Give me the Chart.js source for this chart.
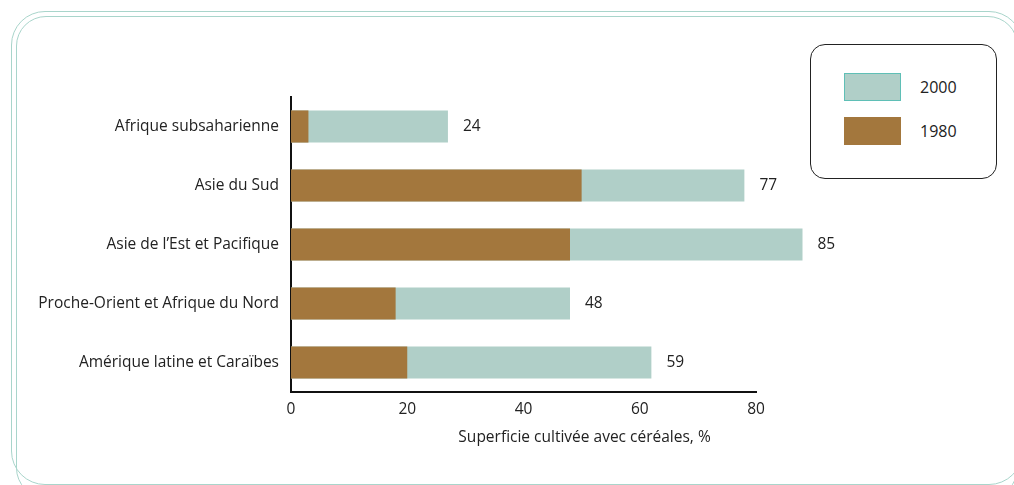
<!DOCTYPE html>
<html lang="fr">
<head>
<meta charset="utf-8">
<script src="https://cdn.jsdelivr.net/npm/chart.js@4"></script>
<style>
    html, body { margin: 0; padding: 0; background: #fff; }
    body { width: 1014px; height: 485px; position: relative; overflow: hidden; font-family: "Open Sans", "Noto Sans", sans-serif; }
    .frame { position: absolute; border: 1px solid #a9d5cb; border-radius: 34px; }
    .frame.outer { left: 11px; top: 11px; width: 1010px; height: 472px; }
    .frame.inner { left: 16px; top: 16px; width: 1000px; height: 480px; border-radius: 30px; }
    #chartWrap { position: absolute; left: 0; top: 0; width: 1014px; height: 485px; }
    .legend { position: absolute; left: 810px; top: 44px; width: 185px; height: 133px; border: 1.5px solid #222; border-radius: 15px; background: #fff; }
    .legend .item { position: absolute; left: 33px; height: 30px; display: flex; align-items: center; }
    .legend .swatch { width: 57px; height: 28px; box-sizing: border-box; }
    .legend .label { margin-left: 19px; font-size: 16px; color: #222; }
</style>
</head>
<body>
<div class="frame outer"></div>
<div class="frame inner"></div>
<div id="chartWrap"><canvas id="chart"></canvas></div>
<div class="legend" id="legend"></div>
<script>
// Data
const categories = [
    "Afrique subsaharienne",
    "Asie du Sud",
    "Asie de l\u2019Est et Pacifique",
    "Proche-Orient et Afrique du Nord",
    "Am\u00e9rique latine et Cara\u00efbes"
];
const values2000 = [27, 78, 88, 48, 62];
const values1980 = [3, 50, 48, 18, 20];
const valueLabels = ["24", "77", "85", "48", "59"];
const xTicks = [0, 20, 40, 60, 80];
const axisTitle = "Superficie cultiv\u00e9e avec c\u00e9r\u00e9ales, %";

const color2000 = "#b0cfc8";
const border2000 = "#5fbfb6";
const color1980 = "#a3773d";
const textColor = "#222";
const fontFamily = '"Open Sans", "Noto Sans", sans-serif';

// Legend box (HTML)
function buildLegend() {
    const legend = document.getElementById('legend');
    const items = [
        { label: "2000", fill: color2000, border: border2000, top: 27 },
        { label: "1980", fill: color1980, border: color1980, top: 71 }
    ];
    items.forEach(it => {
        const row = document.createElement('div');
        row.className = 'item';
        row.style.top = it.top + 'px';
        row.innerHTML = `<div class="swatch" style="background:${it.fill};border:1.5px solid ${it.border}"></div>` +
                        `<div class="label">${it.label}</div>`;
        legend.appendChild(row);
    });
}

// Numbers to the right of each bar + custom-placed axis title
const extrasPlugin = {
    id: 'extras',
    afterDatasetsDraw(chart) {
        const ctx = chart.ctx;
        const meta = chart.getDatasetMeta(1);
        ctx.save();
        ctx.font = '15.5px ' + fontFamily;
        ctx.fillStyle = textColor;
        ctx.textAlign = 'left';
        ctx.textBaseline = 'middle';
        meta.data.forEach((bar, i) => {
            ctx.fillText(valueLabels[i], bar.x + 15, bar.y);
        });
        const xs = chart.scales.x;
        ctx.textAlign = 'center';
        ctx.fillText(axisTitle, xs.getPixelForValue(50.5), xs.bottom - 47);
        ctx.restore();
    }
};

function drawChart() {
    const ctx = document.getElementById('chart').getContext('2d');
    new Chart(ctx, {
        type: 'bar',
        data: {
            labels: categories,
            datasets: [
                {
                    label: "1980",
                    data: values1980,
                    backgroundColor: color1980,
                    order: 1,
                    clip: false
                },
                {
                    label: "2000",
                    data: values2000,
                    backgroundColor: color2000,
                    order: 2,
                    clip: false
                }
            ]
        },
        options: {
            indexAxis: 'y',
            responsive: true,
            maintainAspectRatio: false,
            animation: false,
            grouped: false,
            categoryPercentage: 1,
            barPercentage: 0.545,
            layout: { padding: { top: 97, right: 258, bottom: 0, left: 0 } },
            plugins: {
                legend: { display: false },
                tooltip: { enabled: false }
            },
            scales: {
                x: {
                    min: 0,
                    max: 80,
                    afterBuildTicks(scale) {
                        scale.ticks = xTicks.map(v => ({ value: v }));
                    },
                    afterFit(scale) { scale.height = 93; },
                    grid: { display: false, drawTicks: false },
                    border: { display: true, color: '#111', width: 2 },
                    ticks: {
                        color: textColor,
                        padding: 8,
                        font: { family: fontFamily, size: 15.5 }
                    }
                },
                y: {
                    afterFit(scale) { scale.width = 291; },
                    grid: { display: false, drawTicks: false },
                    border: { display: true, color: '#111', width: 2 },
                    ticks: {
                        color: textColor,
                        padding: 12,
                        font: { family: fontFamily, size: 15.5 }
                    }
                }
            }
        },
        plugins: [extrasPlugin]
    });
}

document.addEventListener('DOMContentLoaded', function() {
    buildLegend();
    drawChart();
});
</script>
</body>
</html>
